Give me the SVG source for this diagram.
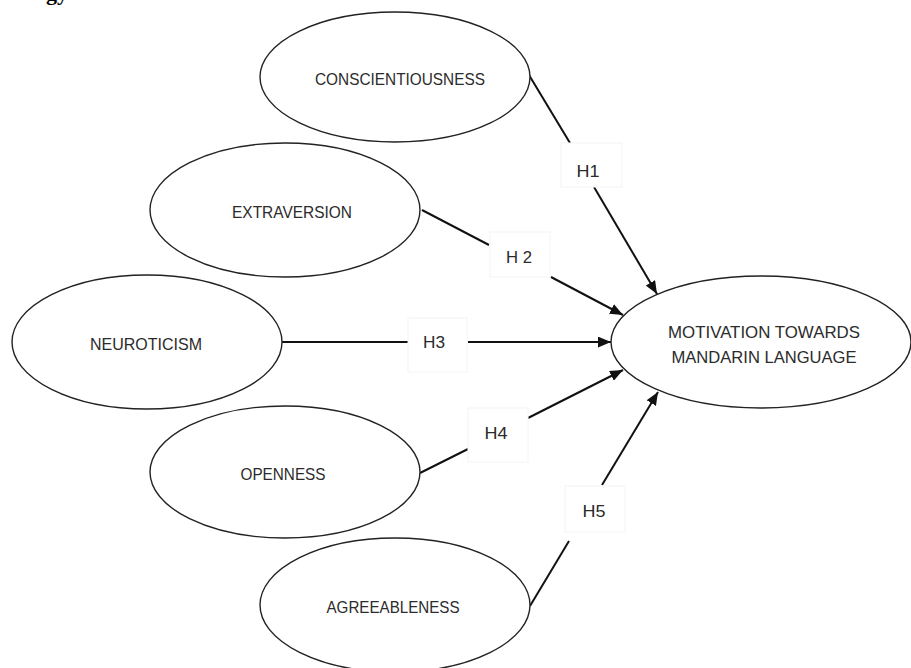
<svg xmlns="http://www.w3.org/2000/svg" width="911" height="668" viewBox="0 0 911 668">
<defs>
<marker id="arr" viewBox="0 0 12 10" refX="12" refY="5" markerWidth="13" markerHeight="11" markerUnits="userSpaceOnUse" orient="auto">
<path d="M0,0 L12,5 L0,10 z" fill="#111"/>
</marker>
<style>
.node ellipse{fill:#fff;stroke:#222;stroke-width:1.4}
.lbl{font-family:"Liberation Sans",Arial,sans-serif;font-size:17px;fill:#2b2b2b;text-anchor:middle}
.edge{stroke:#111;stroke-width:2;fill:none}
.hbox{fill:#fff;stroke:#f4f4f4;stroke-width:1}
.h{font-family:"Liberation Sans",Arial,sans-serif;font-size:17px;fill:#2b2b2b;text-anchor:middle}
</style>
</defs>
<rect width="911" height="668" fill="#fff"/>
<text x="46" y="0" font-family="Liberation Serif,serif" font-weight="bold" font-size="22" fill="#000">gy</text>

<g id="connectors">
<path class="edge" d="M529,75 L570,143"/>
<path class="edge" d="M594,187 L657,294" marker-end="url(#arr)"/>
<path class="edge" d="M422,210 L489,245"/>
<path class="edge" d="M551,277 L623,315" marker-end="url(#arr)"/>
<path class="edge" d="M282,342 L408,342"/>
<path class="edge" d="M468,342 L611,342" marker-end="url(#arr)"/>
<path class="edge" d="M420,473 L468,449"/>
<path class="edge" d="M528,418 L623,370" marker-end="url(#arr)"/>
<path class="edge" d="M530,606 L569,541"/>
<path class="edge" d="M602,485 L658,392" marker-end="url(#arr)"/>
<rect class="hbox" x="561" y="143" width="61" height="44"/>
<text class="h" x="588" y="177" textLength="23" lengthAdjust="spacingAndGlyphs">H1</text>
<rect class="hbox" x="490" y="232" width="60" height="45"/>
<text class="h" x="519" y="263" textLength="26" lengthAdjust="spacingAndGlyphs">H 2</text>
<rect class="hbox" x="408" y="318" width="59" height="54"/>
<text class="h" x="434" y="348" textLength="22" lengthAdjust="spacingAndGlyphs">H3</text>
<rect class="hbox" x="468" y="408" width="60" height="54"/>
<text class="h" x="496" y="439" textLength="23" lengthAdjust="spacingAndGlyphs">H4</text>
<rect class="hbox" x="565" y="486" width="60" height="46"/>
<text class="h" x="594" y="517" textLength="23" lengthAdjust="spacingAndGlyphs">H5</text>
</g>

<g id="conscientiousness" class="node">
<ellipse cx="395" cy="77" rx="135" ry="65"/>
<text class="lbl" x="400" y="85" textLength="170" lengthAdjust="spacingAndGlyphs">CONSCIENTIOUSNESS</text>
</g>
<g id="extraversion" class="node">
<ellipse cx="285" cy="210" rx="135" ry="67"/>
<text class="lbl" x="292" y="218" textLength="120" lengthAdjust="spacingAndGlyphs">EXTRAVERSION</text>
</g>
<g id="neuroticism" class="node">
<ellipse cx="147" cy="342" rx="135" ry="67"/>
<text class="lbl" x="146" y="350" textLength="112" lengthAdjust="spacingAndGlyphs">NEUROTICISM</text>
</g>
<g id="openness" class="node">
<ellipse cx="285" cy="472" rx="135" ry="66"/>
<text class="lbl" x="283" y="480" textLength="85" lengthAdjust="spacingAndGlyphs">OPENNESS</text>
</g>
<g id="agreeableness" class="node">
<ellipse cx="395" cy="605" rx="135" ry="67"/>
<text class="lbl" x="393" y="613" textLength="133" lengthAdjust="spacingAndGlyphs">AGREEABLENESS</text>
</g>
<g id="motivation" class="node">
<ellipse cx="761" cy="342" rx="150" ry="66"/>
<text class="lbl" x="764" y="338" textLength="192" lengthAdjust="spacingAndGlyphs">MOTIVATION TOWARDS</text>
<text class="lbl" x="764" y="363" textLength="185" lengthAdjust="spacingAndGlyphs">MANDARIN LANGUAGE</text>
</g>
</svg>
